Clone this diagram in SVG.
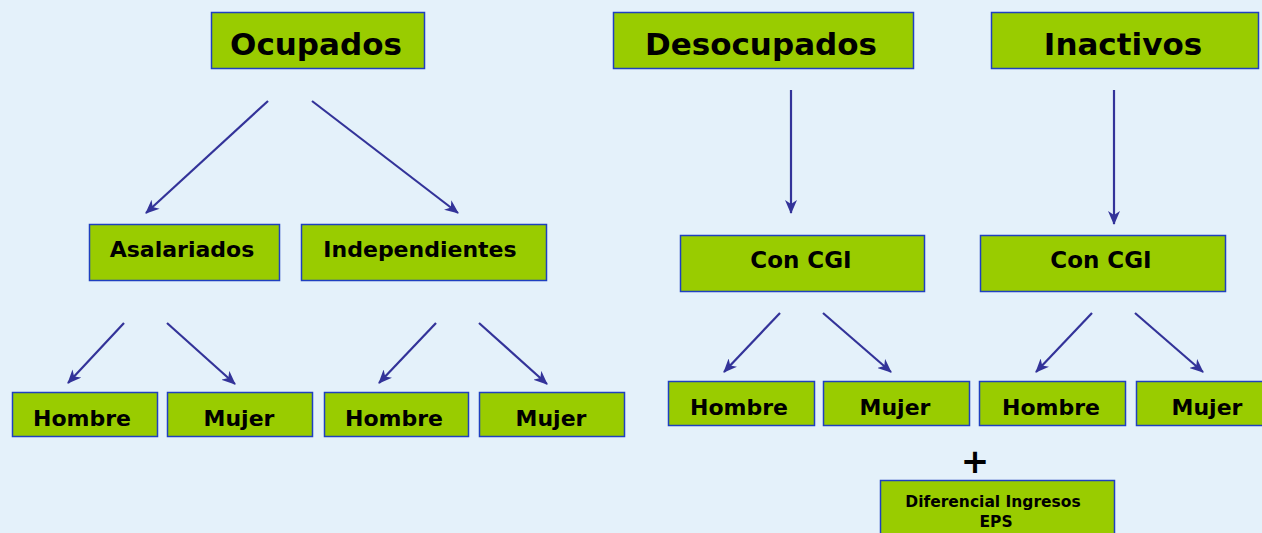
<svg xmlns="http://www.w3.org/2000/svg" width="1262" height="533" viewBox="0 0 1262 533">
<defs>
<marker id="ah" viewBox="0 0 14 12" refX="13" refY="6" markerWidth="14" markerHeight="12" markerUnits="userSpaceOnUse" orient="auto">
<path d="M0,0 L14,6 L0,12 L4,6 z" fill="#333399"/>
</marker>
<style>
.b{fill:#99CC00;stroke:#1F40C0;stroke-width:1.5}
.t{font-family:"DejaVu Sans","Liberation Sans",sans-serif;font-weight:bold;fill:#000;text-anchor:middle}
.c{stroke:#333399;stroke-width:2.2;fill:none;marker-end:url(#ah)}
</style>
</defs>
<rect width="1262" height="533" fill="#E4F1FA"/>
<g id="connectors">
<line class="c" x1="268" y1="101" x2="146" y2="213"/>
<line class="c" x1="312" y1="101" x2="458" y2="213"/>
<line class="c" x1="124" y1="323" x2="68" y2="383"/>
<line class="c" x1="167" y1="323" x2="235" y2="384"/>
<line class="c" x1="436" y1="323" x2="379" y2="383"/>
<line class="c" x1="479" y1="323" x2="547" y2="384"/>
<line class="c" x1="791" y1="90" x2="791" y2="213"/>
<line class="c" x1="1114" y1="90" x2="1114" y2="224"/>
<line class="c" x1="780" y1="313" x2="724" y2="372"/>
<line class="c" x1="823" y1="313" x2="891" y2="372"/>
<line class="c" x1="1092" y1="313" x2="1036" y2="372"/>
<line class="c" x1="1135" y1="313" x2="1203" y2="372"/>
</g>
<g id="ocupados"><rect class="b" x="211.5" y="12.5" width="213" height="56"/><text class="t" x="316" y="55" font-size="31">Ocupados</text></g>
<g id="desocupados"><rect class="b" x="613.5" y="12.5" width="300" height="56"/><text class="t" x="761" y="55" font-size="31">Desocupados</text></g>
<g id="inactivos"><rect class="b" x="991.5" y="12.5" width="267" height="56"/><text class="t" x="1123" y="55" font-size="31">Inactivos</text></g>
<g id="asalariados"><rect class="b" x="89.5" y="224.5" width="190" height="56"/><text class="t" x="182" y="257" font-size="22">Asalariados</text></g>
<g id="independientes"><rect class="b" x="301.5" y="224.5" width="245" height="56"/><text class="t" x="420" y="257" font-size="22">Independientes</text></g>
<g id="concgi1"><rect class="b" x="680.5" y="235.5" width="244" height="56"/><text class="t" x="801" y="268" font-size="23">Con CGI</text></g>
<g id="concgi2"><rect class="b" x="980.5" y="235.5" width="245" height="56"/><text class="t" x="1101" y="268" font-size="23">Con CGI</text></g>
<g id="hombre1"><rect class="b" x="12.5" y="392.5" width="145" height="44"/><text class="t" x="82" y="426" font-size="22">Hombre</text></g>
<g id="mujer1"><rect class="b" x="167.5" y="392.5" width="145" height="44"/><text class="t" x="239" y="426" font-size="22">Mujer</text></g>
<g id="hombre2"><rect class="b" x="324.5" y="392.5" width="144" height="44"/><text class="t" x="394" y="426" font-size="22">Hombre</text></g>
<g id="mujer2"><rect class="b" x="479.5" y="392.5" width="145" height="44"/><text class="t" x="551" y="426" font-size="22">Mujer</text></g>
<g id="hombre3"><rect class="b" x="668.5" y="381.5" width="146" height="44"/><text class="t" x="739" y="415" font-size="22">Hombre</text></g>
<g id="mujer3"><rect class="b" x="823.5" y="381.5" width="146" height="44"/><text class="t" x="895" y="415" font-size="22">Mujer</text></g>
<g id="hombre4"><rect class="b" x="979.5" y="381.5" width="146" height="44"/><text class="t" x="1051" y="415" font-size="22">Hombre</text></g>
<g id="mujer4"><rect class="b" x="1136.5" y="381.5" width="130" height="44"/><text class="t" x="1207" y="415" font-size="22">Mujer</text></g>
<g id="plus"><text x="975" y="473" font-family="DejaVu Sans,sans-serif" font-weight="bold" font-size="34" text-anchor="middle" fill="#000">+</text></g>
<g id="diferencial"><rect class="b" x="880.5" y="480.5" width="234" height="60"/><text class="t" x="993" y="507" font-size="15.5">Diferencial Ingresos</text><text class="t" x="996" y="527" font-size="15.5">EPS</text></g>
</svg>
